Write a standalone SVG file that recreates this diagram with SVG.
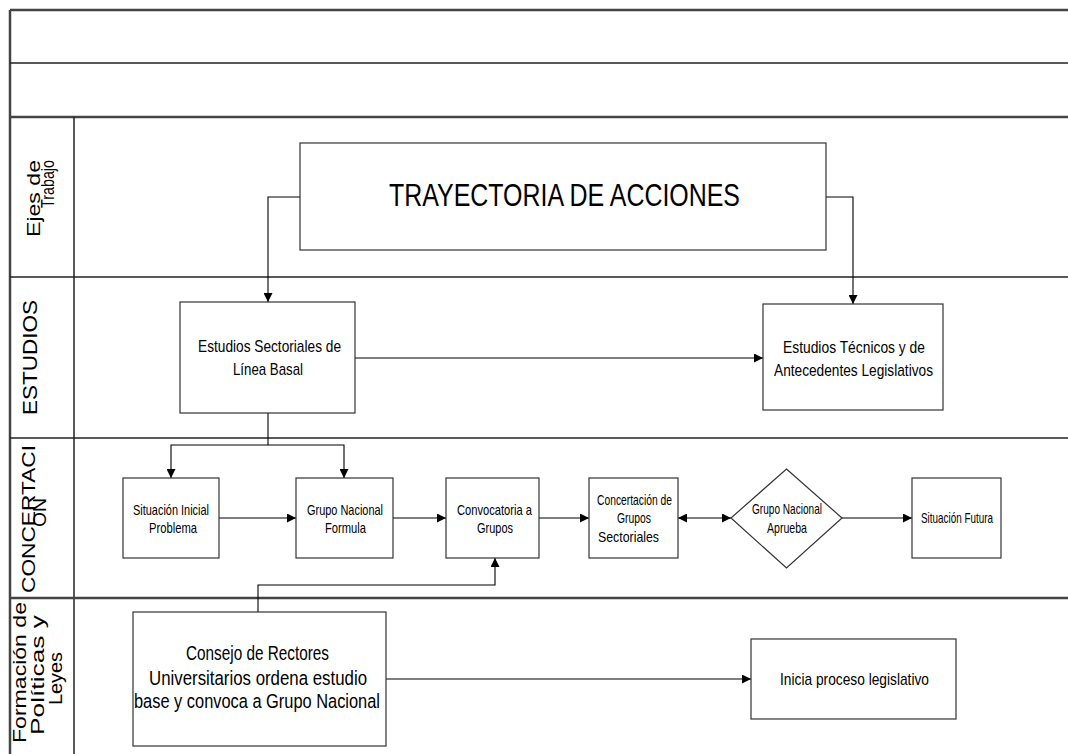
<svg xmlns="http://www.w3.org/2000/svg" width="1068" height="754" viewBox="0 0 1068 754">
<style>
.frame{stroke:#222;stroke-width:1.5;fill:none}
.frameb{stroke:#444;stroke-width:2.5;fill:none}
.box{fill:#fff;stroke:#333;stroke-width:1.2}
.conn{fill:none;stroke:#000;stroke-width:1.1}
text{font-family:"Liberation Sans",Arial,sans-serif;fill:#000}
.lane{font-size:19px}
.n{font-size:14.5px;text-anchor:middle}
.m{font-size:17px;text-anchor:middle}
.c{font-size:20.5px;text-anchor:middle}
</style>
<defs>
<marker id="ah" viewBox="0 0 10 10" refX="10" refY="5" markerWidth="9" markerHeight="9" markerUnits="userSpaceOnUse" orient="auto-start-reverse">
<path d="M0,0 L10,5 L0,10 z" fill="#000"/>
</marker>
</defs>
<rect width="1068" height="754" fill="#fff"/>
<g id="frame">
<line class="frameb" x1="10" y1="10" x2="1068" y2="10"/>
<line class="frameb" x1="10" y1="10" x2="10" y2="754"/>
<line class="frame" x1="10" y1="63" x2="1068" y2="63"/>
<line class="frameb" x1="10" y1="117" x2="1068" y2="117"/>
<line class="frame" x1="74" y1="117" x2="74" y2="754"/>
<line class="frame" x1="10" y1="277" x2="1068" y2="277"/>
<line class="frame" x1="10" y1="438" x2="1068" y2="438"/>
<line class="frameb" x1="10" y1="598" x2="1068" y2="598"/>
</g>
<g id="lane-labels">
<text class="lane" transform="translate(40,237) rotate(-90)" textLength="77" lengthAdjust="spacingAndGlyphs">Ejes de</text>
<text class="lane" transform="translate(54,208) rotate(-90)" textLength="48" lengthAdjust="spacingAndGlyphs">Trabajo</text>
<text class="lane" style="font-size:20px" transform="translate(37,415) rotate(-90)" textLength="115" lengthAdjust="spacingAndGlyphs">ESTUDIOS</text>
<text class="lane" transform="translate(35,593) rotate(-90)" textLength="148" lengthAdjust="spacingAndGlyphs">CONCERTACI</text>
<text class="lane" transform="translate(46,527) rotate(-90)" textLength="29" lengthAdjust="spacingAndGlyphs">ON</text>
<text class="lane" transform="translate(26,743) rotate(-90)" textLength="141" lengthAdjust="spacingAndGlyphs">Formación de</text>
<text class="lane" transform="translate(44,735) rotate(-90)" textLength="120" lengthAdjust="spacingAndGlyphs">Políticas y</text>
<text class="lane" transform="translate(62,705) rotate(-90)" textLength="53" lengthAdjust="spacingAndGlyphs">Leyes</text>
</g>
<g id="connectors">
<path class="conn" d="M300,197 H268 V302" marker-end="url(#ah)"/>
<path class="conn" d="M826,197 H853 V304" marker-end="url(#ah)"/>
<path class="conn" d="M355,358 H763" marker-end="url(#ah)"/>
<path class="conn" d="M268,413 V445"/>
<path class="conn" d="M268,445 H171 V478" marker-end="url(#ah)"/>
<path class="conn" d="M268,445 H344 V478" marker-end="url(#ah)"/>
<path class="conn" d="M219,518 H296" marker-end="url(#ah)"/>
<path class="conn" d="M393,518 H446" marker-end="url(#ah)"/>
<path class="conn" d="M539,518 H589" marker-end="url(#ah)"/>
<path class="conn" d="M678,518 H731" marker-start="url(#ah)" marker-end="url(#ah)"/>
<path class="conn" d="M842,518 H912" marker-end="url(#ah)"/>
<path class="conn" d="M258,612 V585 H495 V558" marker-end="url(#ah)"/>
<path class="conn" d="M386,679 H751" marker-end="url(#ah)"/>
</g>
<g id="trayectoria">
<rect class="box" x="300" y="143" width="526" height="107"/>
<text x="389" y="206" style="font-size:32px" textLength="351" lengthAdjust="spacingAndGlyphs">TRAYECTORIA DE ACCIONES</text>
</g>
<g id="estudios-sectoriales">
<rect class="box" x="180" y="302" width="175" height="111"/>
<text class="m" x="269.5" y="352" textLength="143" lengthAdjust="spacingAndGlyphs">Estudios Sectoriales de</text>
<text class="m" x="268" y="375" textLength="70" lengthAdjust="spacingAndGlyphs">Línea Basal</text>
</g>
<g id="estudios-tecnicos">
<rect class="box" x="763" y="304" width="180" height="106"/>
<text class="m" x="854" y="353" textLength="142" lengthAdjust="spacingAndGlyphs">Estudios Técnicos y de</text>
<text class="m" x="853.5" y="376" textLength="159" lengthAdjust="spacingAndGlyphs">Antecedentes Legislativos</text>
</g>
<g id="situacion-inicial">
<rect class="box" x="123" y="478" width="96" height="80"/>
<text class="n" x="171" y="515" textLength="76" lengthAdjust="spacingAndGlyphs">Situación Inicial</text>
<text class="n" x="173" y="533" textLength="48" lengthAdjust="spacingAndGlyphs">Problema</text>
</g>
<g id="grupo-nacional-formula">
<rect class="box" x="296" y="478" width="97" height="80"/>
<text class="n" x="345" y="515" textLength="76" lengthAdjust="spacingAndGlyphs">Grupo Nacional</text>
<text class="n" x="345.5" y="533" textLength="41" lengthAdjust="spacingAndGlyphs">Formula</text>
</g>
<g id="convocatoria">
<rect class="box" x="446" y="478" width="93" height="80"/>
<text class="n" x="494.5" y="515" textLength="75" lengthAdjust="spacingAndGlyphs">Convocatoria a</text>
<text class="n" x="495" y="533" textLength="36" lengthAdjust="spacingAndGlyphs">Grupos</text>
</g>
<g id="concertacion-grupos">
<rect class="box" x="589" y="478" width="89" height="80"/>
<text class="n" x="634.5" y="505" textLength="75" lengthAdjust="spacingAndGlyphs">Concertación de</text>
<text class="n" x="634" y="523" textLength="34" lengthAdjust="spacingAndGlyphs">Grupos</text>
<text class="n" x="628.5" y="542" textLength="61" lengthAdjust="spacingAndGlyphs">Sectoriales</text>
</g>
<g id="grupo-nacional-aprueba">
<polygon class="box" points="786.5,469 842,518 786.5,568 731,518"/>
<text class="n" x="787" y="514" textLength="70" lengthAdjust="spacingAndGlyphs">Grupo Nacional</text>
<text class="n" x="787" y="533" textLength="40" lengthAdjust="spacingAndGlyphs">Aprueba</text>
</g>
<g id="situacion-futura">
<rect class="box" x="912" y="478" width="89" height="80"/>
<text class="n" x="957" y="523" textLength="72" lengthAdjust="spacingAndGlyphs">Situación Futura</text>
</g>
<g id="consejo">
<rect class="box" x="133" y="612" width="253" height="134"/>
<text class="c" x="257.5" y="660" textLength="143" lengthAdjust="spacingAndGlyphs">Consejo de Rectores</text>
<text class="c" x="258" y="685" textLength="218" lengthAdjust="spacingAndGlyphs">Universitarios ordena estudio</text>
<text class="c" x="257" y="708" textLength="246" lengthAdjust="spacingAndGlyphs">base y convoca a Grupo Nacional</text>
</g>
<g id="inicia">
<rect class="box" x="751" y="639" width="205" height="80"/>
<text class="m" x="854.5" y="685" textLength="149" lengthAdjust="spacingAndGlyphs">Inicia proceso legislativo</text>
</g>
</svg>
